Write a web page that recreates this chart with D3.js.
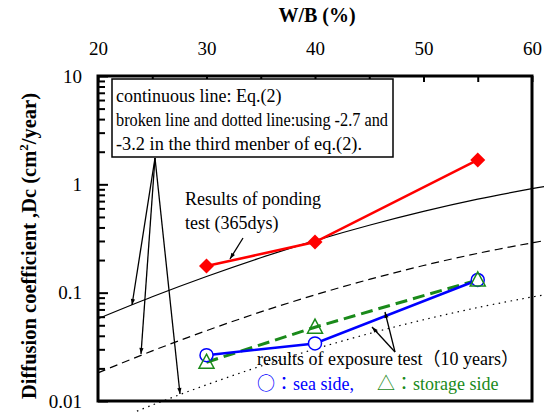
<!DOCTYPE html>
<html><head><meta charset="utf-8">
<script src="https://cdn.jsdelivr.net/npm/d3@7"></script>
<style>body{margin:0;background:#fff}svg{display:block}text{font-family:"Liberation Serif","Times New Roman",serif}
.cjk{font-family:"Noto Sans CJK JP","Noto Sans CJK SC",sans-serif}</style>
</head><body>
<svg id="c" width="544" height="412"></svg>
<script>
// ---- data ----
const xTicks = [20, 25, 30, 35, 40, 45, 50, 55, 60];
const xTickLabels = ["20", "", "30", "", "40", "", "50", "", "60"];
const yMajor = [0.01, 0.1, 1, 10];
const yMajorLabels = ["0.01", "0.1", "1", "10"];
// Eq.(2) curves (W/B %, Dc)
const curveWB = [20, 25, 30, 35, 40, 45, 50, 55, 60, 61.2];
const dcEqSolid  = [0.0575, 0.0917, 0.141, 0.210, 0.302, 0.419, 0.562, 0.729, 0.912, 0.958];
const dcEqBroken = [0.0182, 0.0290, 0.0446, 0.0664, 0.0955, 0.1325, 0.178, 0.2305, 0.2884, 0.303];
const dcEqDotted = [0.00575, 0.00917, 0.0141, 0.0210, 0.0302, 0.0419, 0.0562, 0.0729, 0.0912, 0.0958];
// measurements
const wbPoints = [30, 40, 55];
const dcPonding = [0.176, 0.293, 1.68];
const dcSeaSide = [0.0265, 0.034, 0.131];
const dcStorage = [0.0228, 0.048, 0.131];

const svg = d3.select("#c");
const L = 98, R = 532, T = 76, B = 401;
const x = d3.scaleLinear().domain([20, 60]).range([L, R]);
const y = d3.scaleLog().domain([0.01, 10]).range([B, T]);

const defs = svg.append("defs");
defs.append("marker").attr("id", "ah").attr("viewBox", "0 0 10 10").attr("refX", 10).attr("refY", 5)
  .attr("markerWidth", 9).attr("markerHeight", 6).attr("markerUnits", "userSpaceOnUse").attr("orient", "auto")
  .append("path").attr("d", "M0,1.5 L10,5 L0,8.5 Z").attr("fill", "#000");

// curves (not clipped, they run past the frame)
const line = d3.line().x(d => x(d[0])).y(d => y(d[1])).curve(d3.curveCatmullRom);
function curve(vals, dash) {
  svg.append("path").datum(curveWB.map((w, i) => [w, vals[i]]))
    .attr("d", line).attr("fill", "none").attr("stroke", "#000").attr("stroke-width", 1.2)
    .attr("stroke-dasharray", dash);
}
curve(dcEqSolid, null);
curve(dcEqBroken, "8,5");
curve(dcEqDotted, "1.5,4.5");

// frame
svg.append("rect").attr("x", L).attr("y", T).attr("width", R - L).attr("height", B - T)
  .attr("fill", "none").attr("stroke", "#000").attr("stroke-width", 3);

// top axis
const gx = svg.append("g").attr("transform", `translate(0,${T})`)
  .call(d3.axisTop(x).tickValues(xTicks).tickFormat((d, i) => xTickLabels[i]).tickSize(-6).tickPadding(21));
gx.select(".domain").remove();
gx.selectAll("line").attr("stroke-width", 2);
gx.selectAll("text").attr("font-size", 19).attr("fill", "#000");

// left axis
const yMinor = [];
[0.01, 0.1, 1].forEach(d => { for (let k = 2; k <= 9; k++) yMinor.push(d * k); });
const gyM = svg.append("g").attr("transform", `translate(${L},0)`)
  .call(d3.axisLeft(y).tickValues(yMinor).tickFormat("").tickSize(-7));
gyM.select(".domain").remove();
gyM.selectAll("line").attr("stroke-width", 2);
const gy = svg.append("g").attr("transform", `translate(${L},0)`)
  .call(d3.axisLeft(y).tickValues(yMajor).tickFormat((d, i) => yMajorLabels[i]).tickSize(-10).tickPadding(16));
gy.select(".domain").remove();
gy.selectAll("line").attr("stroke-width", 2);
gy.selectAll("text").attr("font-size", 19).attr("fill", "#000");

// titles
svg.append("text").attr("x", (L + R) / 2 + 2).attr("y", 22).attr("text-anchor", "middle")
  .attr("font-size", 20).attr("font-weight", "bold").text("W/B (%)");
const yt = svg.append("text").attr("transform", "translate(36,246) rotate(-90)").attr("text-anchor", "middle")
  .attr("font-size", 20.5).attr("font-weight", "bold");
yt.append("tspan").text("Diffusion coefficient ,Dc (cm");
yt.append("tspan").attr("dy", -8).attr("font-size", 13).text("2");
yt.append("tspan").attr("dy", 8).text("/year)");

// annotation box
svg.append("rect").attr("x", 112).attr("y", 79).attr("width", 281).attr("height", 78)
  .attr("fill", "#fff").attr("stroke", "#000").attr("stroke-width", 1.5);
const boxLines = ["continuous line: Eq.(2)", "broken line and dotted line:using -2.7 and", "-3.2 in the third menber of eq.(2)."];
const boxLens = [null, 272, 246];
boxLines.forEach((t, i) => {
  const tx = svg.append("text").attr("x", 116).attr("y", 102 + i * 24).attr("font-size", 18).text(t);
  if (boxLens[i]) tx.attr("textLength", boxLens[i]).attr("lengthAdjust", "spacingAndGlyphs");
});

// arrows from box
[[132, 305], [141, 354], [180, 394]].forEach(p =>
  svg.append("line").attr("x1", 155).attr("y1", 158).attr("x2", p[0]).attr("y2", p[1])
    .attr("stroke", "#000").attr("stroke-width", 1.3).attr("marker-end", "url(#ah)"));

// ponding series
const pts = (vals) => wbPoints.map((w, i) => [w, vals[i]]);
const l2 = d3.line().x(d => x(d[0])).y(d => y(d[1]));
svg.append("path").datum(pts(dcPonding)).attr("d", l2).attr("fill", "none").attr("stroke", "#ff0000").attr("stroke-width", 2.5);
svg.selectAll(".dia").data(pts(dcPonding)).enter().append("path")
  .attr("transform", d => `translate(${x(d[0])},${y(d[1])})`)
  .attr("d", "M0,-7.5 L7.5,0 L0,7.5 L-7.5,0 Z").attr("fill", "#ff0000");

// exposure series
svg.append("path").datum(pts(dcStorage)).attr("d", l2).attr("fill", "none").attr("stroke", "#1a8a1a")
  .attr("stroke-width", 3).attr("stroke-dasharray", "12,6");
svg.append("path").datum(pts(dcSeaSide)).attr("d", l2).attr("fill", "none").attr("stroke", "#0000ff").attr("stroke-width", 2.5);
svg.selectAll(".cir").data(pts(dcSeaSide)).enter().append("circle")
  .attr("cx", d => x(d[0])).attr("cy", d => y(d[1])).attr("r", 6.5)
  .attr("fill", "#fff").attr("stroke", "#0000ff").attr("stroke-width", 1.5);
svg.selectAll(".tri").data(pts(dcStorage)).enter().append("path")
  .attr("transform", d => `translate(${x(d[0])},${y(d[1])})`)
  .attr("d", "M0,-8 L7.5,6 L-7.5,6 Z").attr("fill", "none").attr("stroke", "#1a8a1a").attr("stroke-width", 1.5);

// ponding annotation
svg.append("text").attr("x", 185).attr("y", 205).attr("font-size", 18).text("Results of ponding");
svg.append("text").attr("x", 185).attr("y", 229).attr("font-size", 18).text("test (365dys)");
svg.append("line").attr("x1", 243).attr("y1", 238).attr("x2", 230).attr("y2", 259)
  .attr("stroke", "#000").attr("stroke-width", 1.3).attr("marker-end", "url(#ah)");

// exposure annotation
const et = svg.append("text").attr("x", 257).attr("y", 365).attr("font-size", 18);
et.append("tspan").text("results of exposure test");
et.append("tspan").attr("class", "cjk").text("（");
et.append("tspan").text("10 years");
et.append("tspan").attr("class", "cjk").text("）");
[[385, 312], [372, 327]].forEach(p =>
  svg.append("line").attr("x1", 395).attr("y1", 352).attr("x2", p[0]).attr("y2", p[1])
    .attr("stroke", "#000").attr("stroke-width", 1.3).attr("marker-end", "url(#ah)"));
const s1 = svg.append("text").attr("x", 257).attr("y", 390).attr("font-size", 18).attr("fill", "#0000ff");
s1.append("tspan").attr("class", "cjk").text("○：");
s1.append("tspan").text("sea side,");
const s2 = svg.append("text").attr("x", 377).attr("y", 390).attr("font-size", 18).attr("fill", "#1a8a1a");
s2.append("tspan").attr("class", "cjk").text("△：");
s2.append("tspan").text("storage side");
</script>
</body></html>
